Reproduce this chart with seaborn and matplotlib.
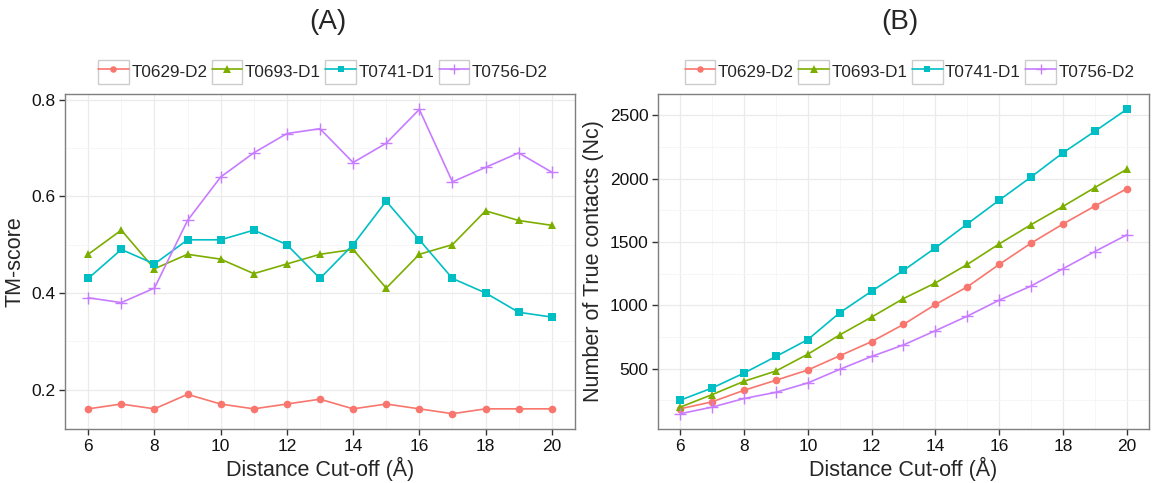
import numpy as np
import pandas as pd
import matplotlib
matplotlib.use('Agg')
import matplotlib.pyplot as plt
import seaborn as sns
from matplotlib.legend_handler import HandlerLine2D
from matplotlib.patches import Rectangle

# Dữ liệu
cutoff = list(range(6, 21))
targets = ['T0629-D2', 'T0693-D1', 'T0741-D1', 'T0756-D2']

tm_t0629 = [0.16, 0.17, 0.16, 0.19, 0.17, 0.16, 0.17, 0.18, 0.16, 0.17, 0.16, 0.15, 0.16, 0.16, 0.16]
tm_t0693 = [0.48, 0.53, 0.45, 0.48, 0.47, 0.44, 0.46, 0.48, 0.49, 0.41, 0.48, 0.50, 0.57, 0.55, 0.54]
tm_t0741 = [0.43, 0.49, 0.46, 0.51, 0.51, 0.53, 0.50, 0.43, 0.50, 0.59, 0.51, 0.43, 0.40, 0.36, 0.35]
tm_t0756 = [0.39, 0.38, 0.41, 0.55, 0.64, 0.69, 0.73, 0.74, 0.67, 0.71, 0.78, 0.63, 0.66, 0.69, 0.65]

nc_t0629 = [184, 239, 330, 409, 490, 602, 714, 850, 1007, 1146, 1323, 1491, 1642, 1784, 1920]
nc_t0693 = [197, 296, 401, 482, 615, 767, 908, 1054, 1177, 1323, 1485, 1637, 1781, 1930, 2074]
nc_t0741 = [252, 348, 466, 597, 730, 942, 1112, 1276, 1454, 1643, 1830, 2013, 2204, 2374, 2547]
nc_t0756 = [145, 197, 265, 314, 388, 495, 597, 688, 800, 915, 1041, 1153, 1289, 1425, 1556]

colors = ['#F8766D', '#7CAE00', '#00BFC4', '#C77CFF']
markers = ['o', '^', 's', '+']


def marker_kw(m, scale=1.0):
    # dấu + là nét, cần viền; các dấu khác tô kín
    if m == '+':
        return dict(markersize=8.5 * scale, markeredgewidth=1.0)
    if m == '^':
        return dict(markersize=6.0 * scale, markeredgewidth=0)
    return dict(markersize=5.5 * scale, markeredgewidth=0)


class BoxedLine(HandlerLine2D):
    # ô vuông viền xám quanh ký hiệu, giống chú thích của ggplot
    def create_artists(self, legend, orig_handle, xdescent, ydescent, width, height, fontsize, trans):
        box = Rectangle((-xdescent, -ydescent), width, height, facecolor='white',
                        edgecolor='#CCCCCC', linewidth=1.0, transform=trans)
        arts = super().create_artists(legend, orig_handle, xdescent, ydescent,
                                      width, height, fontsize, trans)
        return [box] + list(arts)


sns.set_theme(style='white')
plt.rcParams['font.family'] = ['Liberation Sans', 'DejaVu Sans']

fig = plt.figure(figsize=(11.55, 4.83), dpi=100)
ax1 = fig.add_axes([0.0563, 0.112, 0.4415, 0.693])
ax2 = fig.add_axes([0.5697, 0.112, 0.4251, 0.693])

panels = [
    (ax1, [tm_t0629, tm_t0693, tm_t0741, tm_t0756], 'TM-score'),
    (ax2, [nc_t0629, nc_t0693, nc_t0741, nc_t0756], 'Number of True contacts (Nc)'),
]

for ax, series, ylab in panels:
    for vals, c, m in zip(series, colors, markers):
        sns.lineplot(x=cutoff, y=vals, color=c, marker=m, linewidth=1.2,
                     markeredgecolor=c, ax=ax, **marker_kw(m))
    ax.set_xlim(5.3, 20.7)
    ax.set_xticks(range(6, 21, 2))
    ax.set_xticks(range(7, 21, 2), minor=True)
    ax.grid(True, which='major', color='#EBEBEB', linewidth=0.9)
    ax.grid(True, which='minor', color='#F5F5F5', linewidth=0.6)
    ax.set_axisbelow(True)
    for s in ax.spines.values():
        s.set_color('#7F7F7F')
        s.set_linewidth(1.0)
    ax.tick_params(which='major', direction='out', length=4, width=1, color='#333333',
                   labelsize=12.5, labelcolor='#111111', bottom=True, left=True, pad=3)
    ax.tick_params(which='minor', length=0, bottom=False, left=False)
    ax.set_xlabel('Distance Cut-off (Å)', fontsize=15.5, labelpad=2)
    ax.set_ylabel(ylab, fontsize=15.5, labelpad=4)

ax1.set_ylim(0.1185, 0.8115)
ax1.set_yticks([0.2, 0.4, 0.6, 0.8])
ax1.set_yticks([0.3, 0.5, 0.7], minor=True)
ax1.set_yticklabels(['0.2', '0.4', '0.6', '0.8'])

ax2.set_ylim(25, 2667)
ax2.set_yticks([500, 1000, 1500, 2000, 2500])
ax2.set_yticks([250, 750, 1250, 1750, 2250], minor=True)

fig.text(0.284, 0.955, '(A)', ha='center', va='center', fontsize=20)
fig.text(0.779, 0.955, '(B)', ha='center', va='center', fontsize=20)

handles = []
for c, m in zip(colors, markers):
    h, = ax1.plot([], [], color=c, marker=m, linewidth=1.2, markeredgecolor=c, **marker_kw(m, 0.85))
    handles.append(h)

for cx in [0.2797, 0.7875]:
    fig.legend(handles, targets, loc='center', bbox_to_anchor=(cx, 0.851), ncol=4,
               frameon=False, fontsize=12.3, handlelength=1.8, handleheight=1.85,
               columnspacing=0.25, handletextpad=0.15, borderpad=0, borderaxespad=0,
               handler_map={plt.Line2D: BoxedLine(marker_pad=0, numpoints=1)})

fig.savefig('out.png', dpi=100)
